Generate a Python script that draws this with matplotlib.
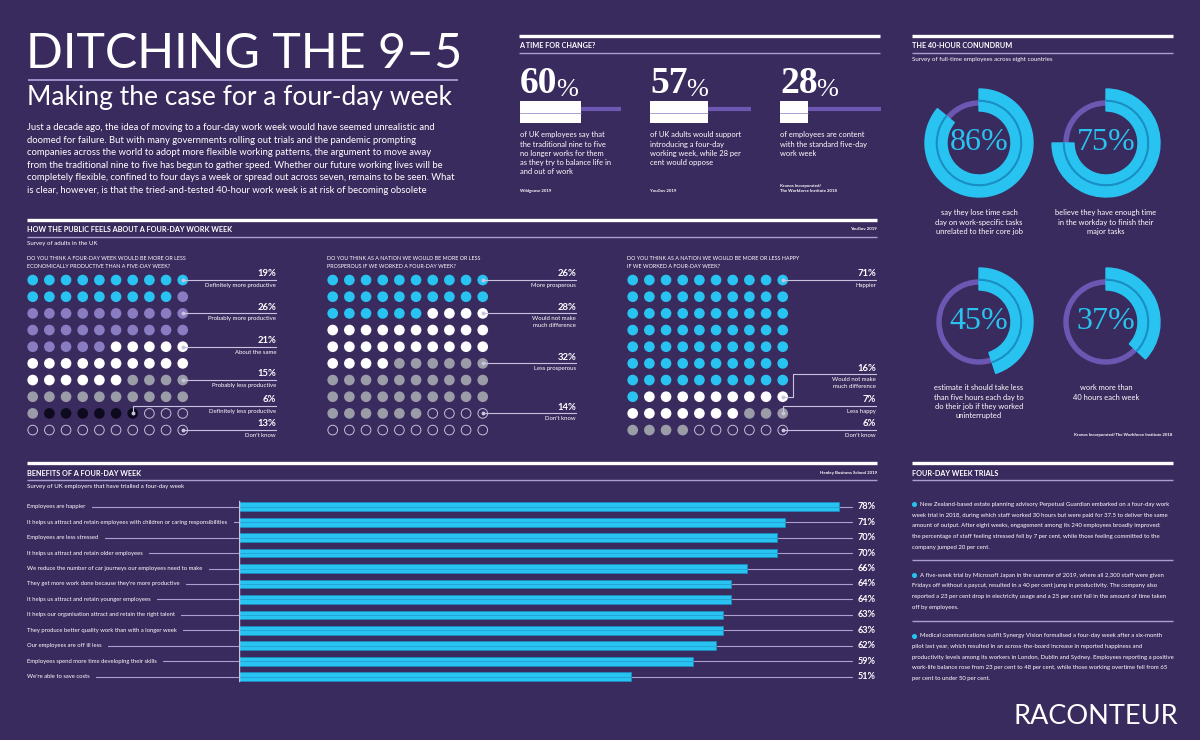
import matplotlib.pyplot as plt
from matplotlib.patches import Wedge, Circle

W, H = 1200, 740
BG = "#3a2b5e"
CYAN = "#29c3f1"
CYAN_DARK = "#1a8fc4"
LILAC = "#8a7cc1"
PURPLE = "#6c58b3"
GREY = "#9a9ca8"
INK = "#0d0a1d"
WHITE = "#ffffff"
RULE = "#a99fcf"
LEADER = "#c9c3df"
SANS = ["Lato", "DejaVu Sans"]
SERIF = ["Liberation Serif", "DejaVu Serif"]

# ---- data ----
title = "DITCHING THE 9\u20135"
subtitle = "Making the case for a four-day week"
intro_lines = [
    "Just a decade ago, the idea of moving to a four-day work week would have seemed unrealistic and",
    "doomed for failure. But with many governments rolling out trials and the pandemic prompting",
    "companies across the world to adopt more flexible working patterns, the argument to move away",
    "from the traditional nine to five has begun to gather speed. Whether our future working lives will be",
    "completely flexible, confined to four days a week or spread out across seven, remains to be seen. What",
    "is clear, however, is that the tried-and-tested 40-hour work week is at risk of becoming obsolete",
]

change_values = [60, 57, 28]
change_texts = [
    ["of UK employees say that", "the traditional nine to five", "no longer works for them",
     "as they try to balance life in", "and out of work"],
    ["of UK adults would support", "introducing a four-day", "working week, while 28 per",
     "cent would oppose"],
    ["of employees are content", "with the standard five-day", "work week"],
]
change_sources = ["Wildgoose 2019", "YouGov 2019", "Kronos Incorporated/\nThe Workforce Institute 2018"]

conundrum_values = [86, 75, 45, 37]
conundrum_texts = [
    ["say they lose time each", "day on work-specific tasks", "unrelated to their core job"],
    ["believe they have enough time", "in the workday to finish their", "major tasks"],
    ["estimate it should take less", "than five hours each day to", "do their job if they worked", "uninterrupted"],
    ["work more than", "40 hours each week"],
]

q_titles = [
    "DO YOU THINK A FOUR-DAY WEEK WOULD BE MORE OR LESS\nECONOMICALLY PRODUCTIVE THAN A FIVE-DAY WEEK?",
    "DO YOU THINK AS A NATION WE WOULD BE MORE OR LESS\nPROSPEROUS IF WE WORKED A FOUR-DAY WEEK?",
    "DO YOU THINK AS A NATION WE WOULD BE MORE OR LESS HAPPY\nIF WE WORKED A FOUR-DAY WEEK?",
]
q1_labels = ["Definitely more productive", "Probably more productive", "About the same",
             "Probably less productive", "Definitely less productive", "Don't know"]
q1_values = [19, 26, 21, 15, 6, 13]
q2_labels = ["More prosperous", "Would not make\nmuch difference", "Less prosperous", "Don't know"]
q2_values = [26, 28, 32, 14]
q3_labels = ["Happier", "Would not make\nmuch difference", "Less happy", "Don't know"]
q3_values = [71, 16, 7, 6]

benefit_labels = [
    "Employees are happier",
    "It helps us attract and retain employees with children or caring responsibilities",
    "Employees are less stressed",
    "It helps us attract and retain older employees",
    "We reduce the number of car journeys our employees need to make",
    "They get more work done because they're more productive",
    "It helps us attract and retain younger employees",
    "It helps our organisation attract and retain the right talent",
    "They produce better quality work than with a longer week",
    "Our employees are off ill less",
    "Employees spend more time developing their skills",
    "We're able to save costs",
]
benefit_values = [78, 71, 70, 70, 66, 64, 64, 63, 63, 62, 59, 51]

trials = [
    ["New Zealand-based estate planning advisory Perpetual Guardian embarked on a four-day work",
     "week trial in 2018, during which staff worked 30 hours but were paid for 37.5 to deliver the same",
     "amount of output. After eight weeks, engagement among its 240 employees broadly improved:",
     "the percentage of staff feeling stressed fell by 7 per cent, while those feeling committed to the",
     "company jumped 20 per cent."],
    ["A five-week trial by Microsoft Japan in the summer of 2019, where all 2,300 staff were given",
     "Fridays off without a paycut, resulted in a 40 per cent jump in productivity. The company also",
     "reported a 23 per cent drop in electricity usage and a 25 per cent fall in the amount of time taken",
     "off by employees."],
    ["Medical communications outfit Synergy Vision formalised a four-day week after a six-month",
     "pilot last year, which resulted in an across-the-board increase in reported happiness and",
     "productivity levels among its workers in London, Dublin and Sydney. Employees reporting a positive",
     "work-life balance rose from 23 per cent to 48 per cent, while those working overtime fell from 65",
     "per cent to under 50 per cent."],
]

# ---- figure ----
plt.rcParams["font.family"] = SANS
fig = plt.figure(figsize=(12, 7.4), dpi=100, facecolor=BG)
page = fig.add_axes([0, 0, 1, 1])
page.set_xlim(0, W)
page.set_ylim(H, 0)
page.axis("off")


def px_axes(x, y, w, h):
    ax = fig.add_axes([x / W, 1 - (y + h) / H, w / W, h / H])
    ax.axis("off")
    return ax


def rule(x0, x1, y, color=RULE, lw=1.0):
    page.plot([x0, x1], [y, y], color=color, lw=lw, solid_capstyle="butt")


def text_lines(x, y0, dy, lines, **kw):
    for i, s in enumerate(lines):
        page.text(x, y0 + i * dy, s, va="center", **kw)


def section(x0, x1, y, name, source=None, sub=None):
    rule(x0, x1, y, WHITE, 2.4)
    page.text(x0, y + 10.5, name, color=WHITE, fontsize=5.2, fontweight="bold", va="center")
    if source:
        page.text(x1, y + 10, source, color=WHITE, fontsize=3.2, fontweight="bold",
                  va="center", ha="right")
    rule(x0, x1, y + 17.5)
    if sub:
        page.text(x0, y + 23.5, sub, color=WHITE, fontsize=4.4, va="center")


# title block
page.text(26, 68, title, color=WHITE, fontsize=34.8, va="baseline")
rule(28, 458, 80, "#9d93cc", 1.4)
page.text(27, 105, subtitle, color=WHITE, fontsize=19, va="baseline")
text_lines(27, 128, 12.45, intro_lines, color=WHITE, fontsize=6.8)

# a time for change
section(519, 880, 35.5, "A TIME FOR CHANGE?")
for k, (v, lines, src) in enumerate(zip(change_values, change_texts, change_sources)):
    x = 520 + 130 * k
    num = page.text(x, 93, f"{v}", color=WHITE, fontsize=27, fontweight="bold",
                    family=SERIF, va="baseline")
    page.annotate("%", xy=(1, 0), xycoords=num, xytext=(-1, 0), textcoords="offset points",
                  color=WHITE, fontsize=19, family=SERIF, va="bottom", ha="left")
    ax = px_axes(x, 101, 101, 22)
    ax.set_xlim(0, 100)
    ax.set_ylim(0, 1)
    ax.plot([v, 100], [0.64, 0.64], color=PURPLE, lw=3, solid_capstyle="butt")
    ax.barh(0.5, v, height=1, color=WHITE)
    ax.plot([0, v], [0.47, 0.47], color=LILAC, lw=0.5)
    text_lines(x, 135, 9.2, lines, color=WHITE, fontsize=5.4)
    page.text(x, 193, src, color=WHITE, fontsize=3.1, fontweight="bold", va="bottom",
              linespacing=1.5)

# 40-hour conundrum
section(912, 1173, 35.5, "THE 40-HOUR CONUNDRUM",
        sub="Survey of full-time employees across eight countries")
centres = [(979, 143), (1106, 143), (979, 322), (1106, 322)]
for (cx, cy), v, lines in zip(centres, conundrum_values, conundrum_texts):
    ax = px_axes(cx - 60, cy - 60, 120, 120)
    ax.set_xlim(-60, 60)
    ax.set_ylim(-60, 60)
    ax.add_patch(Wedge((0, 0), 42, 0, 360, width=4, color=PURPLE))
    ax.add_patch(Wedge((0, 0), 54, 90 - 3.6 * v, 90, width=22, color=CYAN))
    ax.add_patch(Wedge((0, 0), 42.6, 90 - 3.6 * v, 90, width=0.7, color=CYAN_DARK))
    ax.text(0, 0, f"{v}%", color=CYAN, fontsize=23, family=SERIF, ha="center", va="center")
    y0 = cy + 70 if cy < 200 else cy + 66
    for i, s in enumerate(lines):
        page.text(cx, y0 + i * 9.2, s, color=WHITE, fontsize=5.4, ha="center", va="center")
page.text(1172, 435, "Kronos Incorporated/The Workforce Institute 2018", color=WHITE,
          fontsize=3.1, fontweight="bold", ha="right", va="center")

# how the public feels
section(27, 877, 219.5, "HOW THE PUBLIC FEELS ABOUT A FOUR-DAY WORK WEEK",
        source="YouGov 2019", sub="Survey of adults in the UK")

grids = [
    (q1_values, q1_labels, [CYAN, LILAC, WHITE, GREY, INK, None],
     [9, 29, 49, 69, 86, 99], [0, 2, 4, 6, 7.56, 9], [None] * 6),
    (q2_values, q2_labels, [CYAN, WHITE, GREY, None],
     [9, 29, 59, 89], [0, 2, 5, 8], [None] * 4),
    (q3_values, q3_labels, [CYAN, WHITE, GREY, None],
     [9, 79, 89, 99], [0, 5.66, 7.56, 9], [None, 9.63, None, None]),
]
for k, (vals, labels, colors, anchors, rows, elbows) in enumerate(grids):
    x0 = 32.7 + 300 * k
    page.text(x0 - 6, 262.5, q_titles[k], color=WHITE, fontsize=3.9, va="center",
              linespacing=1.75)
    ax = px_axes(x0 - 8.33, 271.7, 166.7, 166.7)
    ax.set_xlim(-0.5, 9.5)
    ax.set_ylim(9.5, -0.5)
    kinds = [c for v, c in zip(vals, colors) for _ in range(v)]
    for i, c in enumerate(kinds):
        r, col = divmod(i, 10)
        if c is None:
            ax.add_patch(Circle((col, r), 0.29, fc="none", ec="#c4bfd8", lw=0.7))
        else:
            ax.add_patch(Circle((col, r), 0.32, fc=c, ec="none"))
    for v, lab, a, row, ex in zip(vals, labels, anchors, rows, elbows):
        r, col = divmod(a, 10)
        ex = col if ex is None else ex
        ax.plot([col, ex, ex, 14.6], [r, r, row, row], color=LEADER, lw=0.8,
                clip_on=False, zorder=3)
        ax.plot(col, r, "o", ms=1.8, color=LEADER, zorder=4)
        ax.text(14.6, row - 0.1, f"{v}%", color=WHITE, fontsize=6.8, fontweight="bold",
                ha="right", va="bottom", clip_on=False)
        ax.text(14.6, row + 0.17, lab, color=WHITE, fontsize=4.3, ha="right", va="top",
                linespacing=1.45, clip_on=False)

# benefits
section(27, 877, 462.7, "BENEFITS OF A FOUR-DAY WEEK", source="Henley Business School 2019",
        sub="Survey of UK employers that have trialled a four-day week")
bx = px_axes(239, 499, 769, 185.4)
bx.set_xlim(0, 100)
bx.set_ylim(11.5, -0.5)
ys = list(range(len(benefit_values)))
end = (876 - 239) / 7.69
start = (27 - 239) / 7.69
for y, v, lab in zip(ys, benefit_values, benefit_labels):
    bx.plot([start, 0], [y, y], color=RULE, lw=0.8, clip_on=False)
    bx.plot([v, end - 2], [y, y], color=RULE, lw=0.8)
    bx.text(start, y, lab, color=WHITE, fontsize=4.2, va="center", ha="left", clip_on=False,
            bbox=dict(boxstyle="square,pad=1.1", fc=BG, ec="none"))
    bx.text(end, y, f"{v}%", color=WHITE, fontsize=6.6, fontweight="bold", va="center",
            ha="right", bbox=dict(boxstyle="square,pad=0.5", fc=BG, ec="none"))
bx.barh(ys, benefit_values, height=0.56, color=CYAN, edgecolor=CYAN_DARK, lw=0.5, zorder=3)
for y, v in zip(ys, benefit_values):
    bx.plot([0, v], [y, y], color=CYAN_DARK, lw=0.4, zorder=4)
bx.plot([0, 0], [-0.35, 11.28], color=LEADER, lw=1.0, zorder=5)

# trials
section(912, 1173, 462.7, "FOUR-DAY WEEK TRIALS")
for y0, lines in zip([504.3, 575, 635.7], trials):
    page.plot(913.5, y0, "o", ms=2.6, color=CYAN)
    page.text(920, y0, lines[0], color=WHITE, fontsize=4.35, va="center")
    text_lines(912, y0 + 10.7, 10.7, lines[1:], color=WHITE, fontsize=4.35)
rule(912, 1173, 560)
rule(912, 1173, 621)

page.text(1178, 716, "RACONTEUR", color=WHITE, fontsize=19.5, ha="right", va="center")

fig.savefig("out.png", dpi=100, facecolor=BG)
